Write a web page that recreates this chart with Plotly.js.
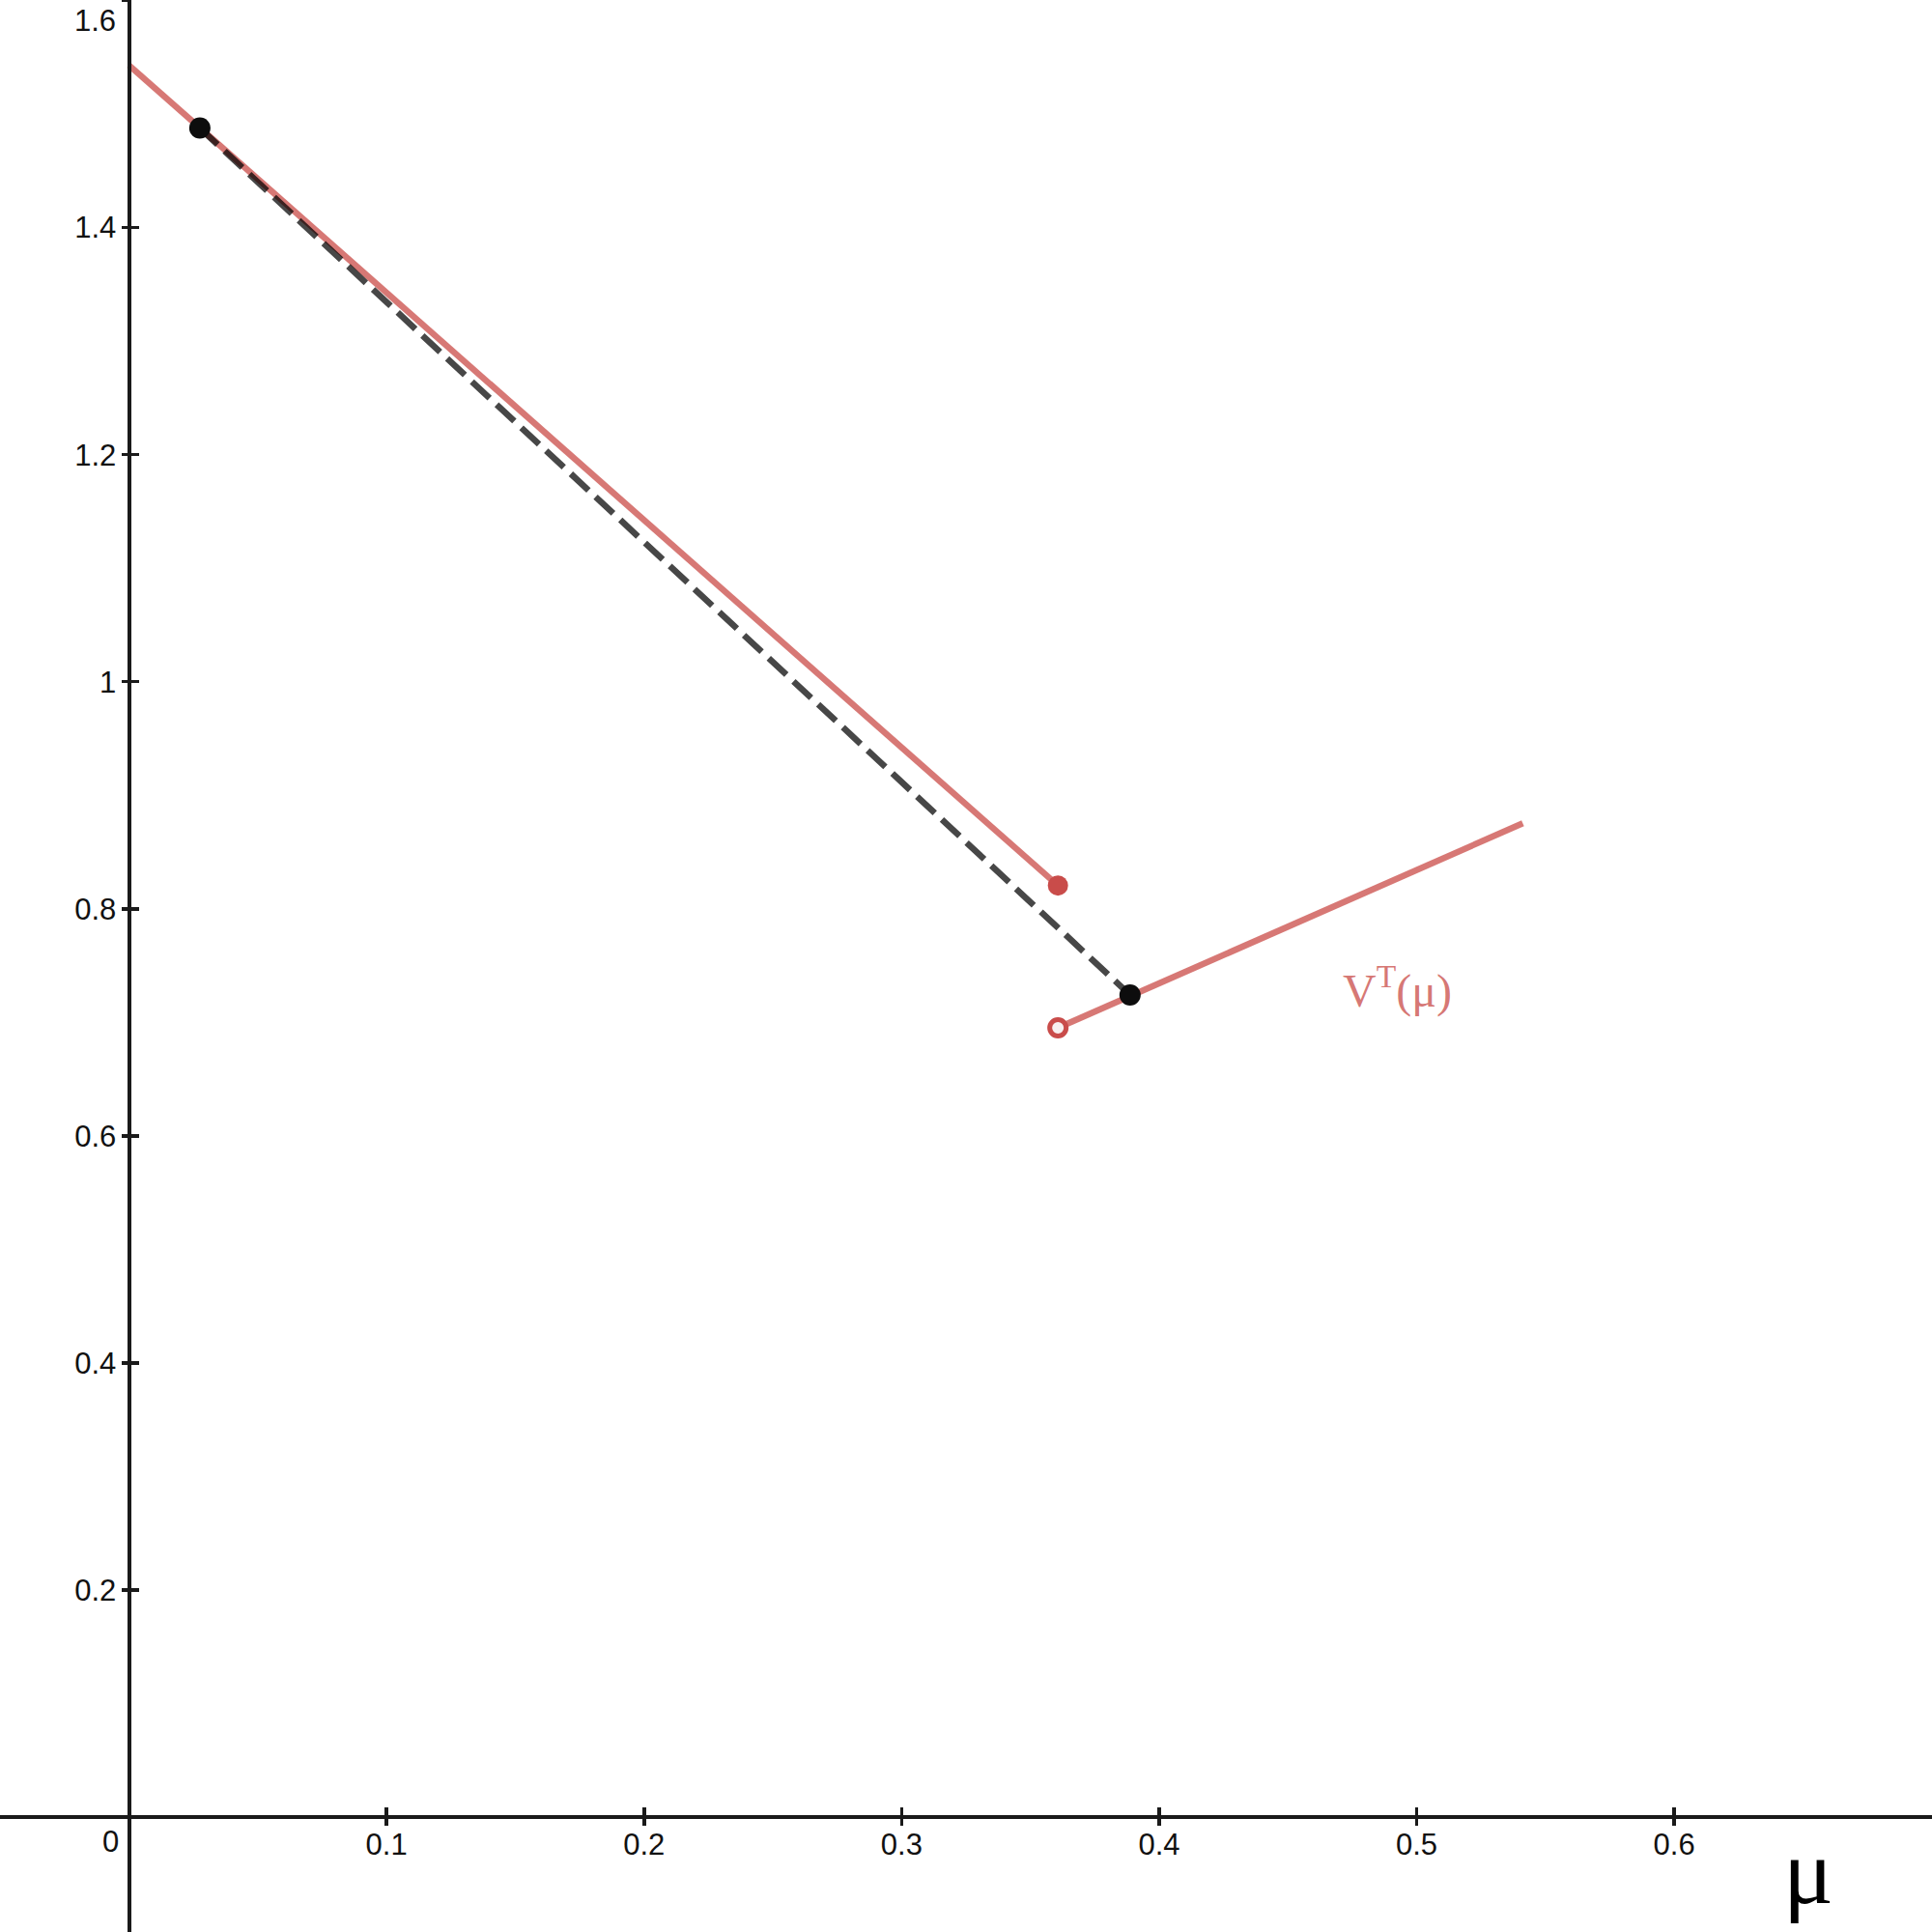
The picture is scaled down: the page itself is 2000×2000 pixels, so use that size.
<!DOCTYPE html>
<html>
<head>
<meta charset="utf-8">
<script src="https://cdn.plot.ly/plotly-3.0.1.min.js"></script>
<style>html,body{margin:0;padding:0;background:#fff;}</style>
</head>
<body>
<div id="chart" style="width:2000px;height:2000px"></div>
<script>
// ---- data ----
const upperBranchX = [0, 0.3607];
const upperBranchY = [1.543, 0.8205];
const lowerBranchX = [0.3607, 0.5412];
const lowerBranchY = [0.6951, 0.8753];
const chordX = [0.0275, 0.3887];
const chordY = [1.4877, 0.7241];
const closedEndX = [0.3607];
const closedEndY = [0.8205];
const openEndX = [0.3607];
const openEndY = [0.6951];
const xTickVals = [0.1, 0.2, 0.3, 0.4, 0.5, 0.6];
const xTickText = ['0.1', '0.2', '0.3', '0.4', '0.5', '0.6'];
const yTickVals = [0.2, 0.4, 0.6, 0.8, 1, 1.2, 1.4];
const yTickText = ['0.2', '0.4', '0.6', '0.8', '1', '1.2', '1.4'];
const yTickValsAll = [0.2, 0.4, 0.6, 0.8, 1, 1.2, 1.4, 1.6];
const xRange = [-0.0501, 0.7001];
const yRange = [-0.1013, 1.6005];

const red = 'rgba(199,68,64,0.72)';
const redSolid = '#c94c4a';
const axisColor = '#1a1a1a';
const tickFont = {family: 'Liberation Sans, Arial, sans-serif', size: 31, color: '#111'};

const xPos = (0 - yRange[0]) / (yRange[1] - yRange[0]);
const yPos = (0 - xRange[0]) / (xRange[1] - xRange[0]);

const traces = [
  {x: upperBranchX, y: upperBranchY, mode: 'lines', line: {color: red, width: 6.5}, hoverinfo: 'skip'},
  {x: lowerBranchX, y: lowerBranchY, mode: 'lines', line: {color: red, width: 6.5}, hoverinfo: 'skip'},
  {x: chordX, y: chordY, mode: 'lines', line: {color: 'rgba(0,0,0,0.72)', width: 6.5, dash: '25px,10px'}, hoverinfo: 'skip'},
  {x: closedEndX, y: closedEndY, mode: 'markers', marker: {color: redSolid, size: 21}, hoverinfo: 'skip'},
  {x: openEndX, y: openEndY, mode: 'markers', marker: {color: '#f8f0f0', size: 17, line: {color: redSolid, width: 5}}, hoverinfo: 'skip'},
  {x: chordX, y: chordY, mode: 'markers', marker: {color: '#0d0d0d', size: 22}, hoverinfo: 'skip'},
  {x: [null], y: [null], xaxis: 'x2', yaxis: 'y2', mode: 'markers', hoverinfo: 'skip'}
];

const baseAxis = {
  showgrid: false, zeroline: false, fixedrange: true,
  ticklen: 8, tickwidth: 3.5, tickcolor: axisColor, tickfont: tickFont
};

const layout = {
  width: 2000, height: 2000,
  margin: {l: 0, r: 0, t: 0, b: 0, pad: 0},
  paper_bgcolor: '#fff', plot_bgcolor: '#fff',
  showlegend: false,
  xaxis: Object.assign({}, baseAxis, {
    range: xRange, anchor: 'free', position: xPos,
    showline: true, linecolor: axisColor, linewidth: 4,
    ticks: 'inside', tickmode: 'array', tickvals: xTickVals, ticktext: xTickText,
    ticklabelstandoff: 0
  }),
  yaxis: Object.assign({}, baseAxis, {
    range: yRange, anchor: 'free', position: yPos,
    showline: true, linecolor: axisColor, linewidth: 4,
    ticks: 'inside', tickmode: 'array', tickvals: yTickVals, ticktext: yTickText,
    ticklabelstandoff: 5
  }),
  xaxis2: Object.assign({}, baseAxis, {
    range: xRange, overlaying: 'x', anchor: 'free', position: xPos,
    showline: false, ticks: 'outside', tickmode: 'array', tickvals: xTickVals, showticklabels: false
  }),
  yaxis2: Object.assign({}, baseAxis, {
    range: yRange, overlaying: 'y', anchor: 'free', position: yPos,
    showline: false, ticks: 'outside', tickmode: 'array', tickvals: yTickValsAll, showticklabels: false
  }),
  annotations: [
    {x: -0.0073, y: -0.0221, xref: 'x', yref: 'y', text: '0', showarrow: false,
     xanchor: 'center', yanchor: 'middle', font: tickFont},
    {x: -0.0043, y: 1.5826, xref: 'x', yref: 'y', text: '1.6', showarrow: false,
     xanchor: 'right', yanchor: 'middle', font: tickFont},
    {x: 0.4706, y: 0.7305, xref: 'x', yref: 'y', text: 'V<sup>T</sup>(μ)', showarrow: false,
     xanchor: 'left', yanchor: 'middle',
     font: {family: 'Liberation Serif, Times New Roman, serif', size: 48, color: 'rgba(199,68,64,0.72)'}},
    {x: 0.652, y: -0.0485, xref: 'x', yref: 'y', text: 'μ', showarrow: false,
     xanchor: 'center', yanchor: 'middle',
     font: {family: 'Liberation Serif, Times New Roman, serif', size: 97, color: '#000'}}
  ]
};

Plotly.newPlot('chart', traces, layout, {staticPlot: true, displayModeBar: false});
</script>
</body>
</html>
